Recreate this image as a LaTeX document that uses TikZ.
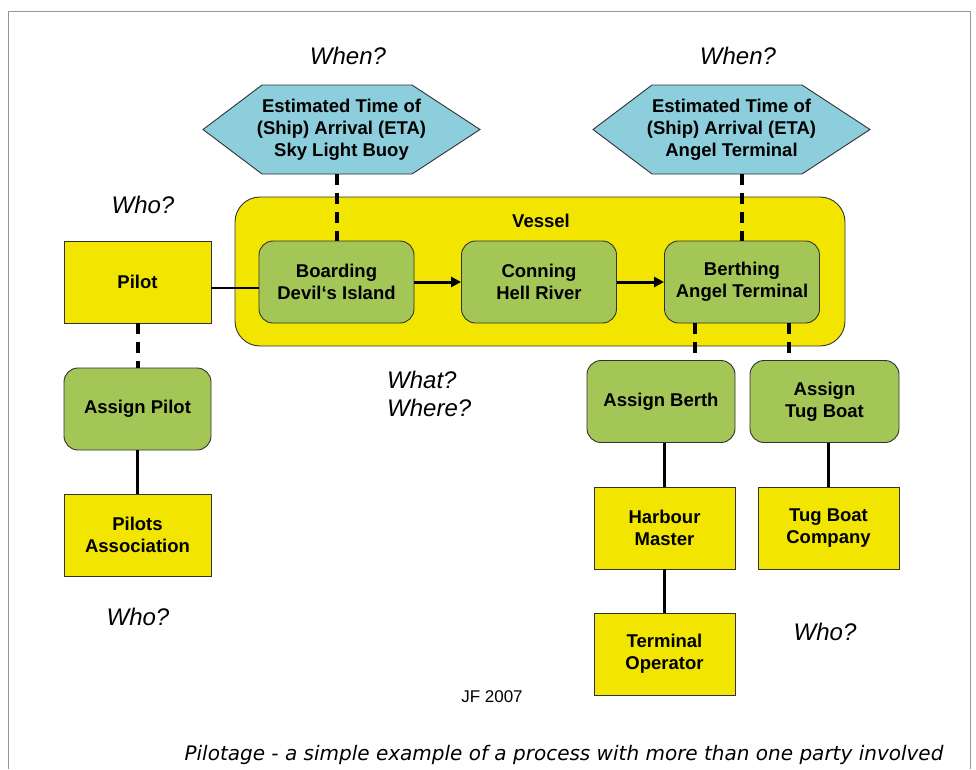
\documentclass[tikz,border=0pt]{standalone}
\usepackage{fontspec}
\setmainfont{Liberation Sans}
\newfontfamily\capfont{DejaVu Sans}
\usetikzlibrary{arrows.meta}
\definecolor{cyel}{RGB}{242,230,0}
\definecolor{cgrn}{RGB}{163,198,86}
\definecolor{cblu}{RGB}{140,206,220}
\definecolor{cbrd}{RGB}{50,50,50}
\definecolor{cframe}{RGB}{150,150,150}
\tikzset{
  party/.style={draw=cbrd,line width=0.9pt,fill=cyel,minimum width=147pt,minimum height=82pt,inner sep=0pt,align=center,font=\fontsize{18.5}{22}\selectfont\bfseries},
  proc/.style={draw=cbrd,line width=0.9pt,fill=cgrn,rounded corners=14pt,minimum width=155pt,minimum height=82pt,inner sep=0pt,align=center,font=\fontsize{18.5}{22}\selectfont\bfseries},
  eta/.style={minimum width=277pt,minimum height=89pt,inner sep=0pt,align=center,font=\fontsize{18.5}{22}\selectfont\bfseries},
  hexfill/.style={draw=cbrd,line width=0.9pt,fill=cblu},
  ask/.style={font=\fontsize{24}{28}\selectfont\itshape,inner sep=0pt},
  dashconn/.style={line width=4pt,dash pattern=on 11pt off 8pt},
  solconn/.style={line width=2.5pt},
  flow/.style={line width=3pt,-{Triangle[length=10pt,width=10pt]}},
}
\begin{document}
\begin{tikzpicture}[x=1pt,y=-1pt]
\useasboundingbox (0,0) rectangle (976,769);
\fill[white] (0,0) rectangle (976,769);
\draw[cframe,line width=1pt] (8,769) -- (8,11) -- (970,11) -- (970,769);

\node[ask] (when1) at (348,56) {When?};
\node[ask] (when2) at (738,56) {When?};
\foreach \cx in {341.5,731.5}{
  \draw[hexfill] (\cx-138.5,129.5) -- (\cx-79.5,85) -- (\cx+70.5,85) -- (\cx+138.5,129.5) -- (\cx+70.5,174) -- (\cx-79.5,174) -- cycle;
}
\node[eta] (eta1) at (341.5,129.5) {Estimated Time of\\(Ship) Arrival (ETA)\\Sky Light Buoy};
\node[eta] (eta2) at (731.5,129.5) {Estimated Time of\\(Ship) Arrival (ETA)\\Angel Terminal};

\node[draw=cbrd,line width=0.9pt,fill=cyel,rounded corners=25pt,minimum width=610pt,minimum height=149pt] (vessel) at (540,271.5) {};
\node[font=\fontsize{18.5}{22}\selectfont\bfseries] (vlabel) at (541,221) {Vessel};

\node[proc] (board) at (336.5,282) {Boarding\\Devil‘s Island};
\node[proc] (conn) at (539,282) {Conning\\Hell River};
\node[proc] (berth) at (742,282) {Berthing\\Angel Terminal};

\node[party] (pilot) at (137.5,282) {Pilot};
\node[proc,minimum width=147pt] (apilot) at (137.5,409) {Assign Pilot};
\node[party] (passoc) at (137.5,535) {Pilots\\Association};

\node[proc,minimum width=148pt] (aberth) at (661,401.5) {Assign Berth};
\node[proc,minimum width=149pt] (atug) at (824.5,401.5) {Assign\\Tug Boat};
\node[party,minimum width=141pt] (harb) at (664.5,528) {Harbour\\Master};
\node[party,minimum width=141pt] (tugco) at (828.5,528) {Tug Boat\\Company};
\node[party,minimum width=141pt] (term) at (664.5,654) {Terminal\\Operator};

\node[ask] (who1) at (143,205) {Who?};
\node[ask] (who2) at (138,617) {Who?};
\node[ask] (who3) at (825,632) {Who?};
\node[ask,align=left,anchor=west] (what) at (387,394) {What?\\Where?};

\node[font=\fontsize{17}{20}\selectfont] (jf) at (492,697) {JF 2007};
\node[font=\capfont\fontsize{20}{22}\selectfont\itshape] (cap) at (564,755) {Pilotage - a simple example of a process with more than one party involved};

% connectors
\draw[dashconn] (eta1.south -| board.north) -- (board.north);
\draw[dashconn] (eta2.south -| berth.north) -- (berth.north);
\draw[flow] (board) -- (conn);
\draw[flow] (conn) -- (berth);
\draw[solconn] (pilot.east |- 0,288) -- (board.west |- 0,288);
\draw[dashconn] (pilot.south) -- (apilot.north);
\draw[solconn] (apilot.south) -- (passoc.north);
\draw[dashconn] (berth.south -| 695,0) -- (aberth.north -| 695,0);
\draw[dashconn] (berth.south -| 789,0) -- (atug.north -| 789,0);
\draw[solconn] (aberth.south -| harb.north) -- (harb.north);
\draw[solconn] (harb.south) -- (term.north);
\draw[solconn] (atug.south -| tugco.north) -- (tugco.north);
\end{tikzpicture}
\end{document}
